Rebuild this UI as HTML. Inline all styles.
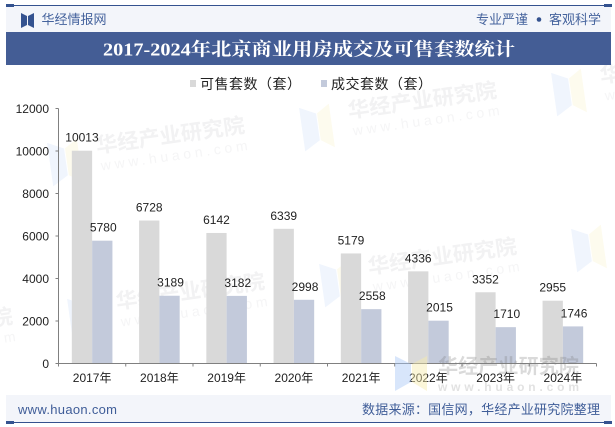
<!DOCTYPE html>
<html lang="zh">
<head>
<meta charset="utf-8">
<title>2017-2024年北京商业用房成交及可售套数统计</title>
<style>
html,body{margin:0;padding:0;background:#fff;}
body{width:615px;height:427px;overflow:hidden;}
svg{display:block;}
.sans{font-family:"Liberation Sans","Noto Sans CJK SC",sans-serif;}
.wm{font-family:"Liberation Sans","Noto Sans CJK SC",sans-serif;font-weight:700;}
</style>
</head>
<body>
<svg id="chart" xmlns="http://www.w3.org/2000/svg" width="615" height="427" viewBox="0 0 615 427">
  <rect x="0" y="0" width="615" height="427" fill="#ffffff"/>

  <g id="watermarks"></g>
  <g id="plot"></g>

  <g>
    <polygon points="395,356 411,364 411,382 395,391" fill="#a9c8f7" fill-opacity="0.45"/>
    <polygon points="412,364 427,356 427,391 412,382" fill="#f7ecaa" fill-opacity="0.45"/>
    <text class="wm" x="438" y="373" font-size="20" fill="#7a7a7a" fill-opacity="0.28" textLength="141" lengthAdjust="spacingAndGlyphs">华经产业研究院</text>
    <text class="wm" x="438" y="391" font-size="12" fill="#7a7a7a" fill-opacity="0.22" textLength="141">www.huaon.com</text>
  </g>

  <g>
    <rect x="6" y="6" width="605" height="26" fill="#f3f5fa"/>
    <rect x="6" y="5" width="605" height="1" fill="#34528f"/>
    <rect x="6" y="4" width="8" height="3" fill="#34528f"/>
    <rect x="604" y="4" width="8" height="3" fill="#34528f"/>
    <polygon points="21,13 27,16 27,25 21,28" fill="#34528f"/>
    <polygon points="34,13 28,16 28,25 34,28" fill="#34528f"/>
    <text class="sans" x="41.5" y="24" font-size="13" fill="#45639d" textLength="65">华经情报网</text>
    <text class="sans" x="476" y="24" font-size="13" fill="#45639d" textLength="52">专业严谨</text>
    <circle cx="539" cy="19.5" r="2.3" fill="#34528f"/>
    <text class="sans" x="549" y="24" font-size="13" fill="#45639d" textLength="52">客观科学</text>
  </g>

  <g>
    <rect x="6" y="32" width="605" height="33" fill="#445d95"/>
    <text x="103" y="55.5" font-size="18" font-weight="700" fill="#ffffff" font-family="'Liberation Serif','Noto Serif CJK SC',serif" textLength="412" lengthAdjust="spacingAndGlyphs">2017-2024年北京商业用房成交及可售套数统计</text>
  </g>

  <g>
    <rect x="190" y="80" width="6" height="7" fill="#d9d9d9"/>
    <text class="sans" x="200" y="89" font-size="14" fill="#222" textLength="101">可售套数（套）</text>
    <rect x="321" y="80" width="6" height="7" fill="#c3cadb"/>
    <text class="sans" x="331" y="89" font-size="14" fill="#222" textLength="101">成交套数（套）</text>
  </g>

  <g>
    <rect x="6" y="395" width="605" height="27" fill="#f3f5fa"/>
    <rect x="6" y="422" width="605" height="1" fill="#34528f"/>
    <rect x="6" y="421" width="8" height="3" fill="#34528f"/>
    <rect x="604" y="421" width="8" height="3" fill="#34528f"/>
    <text class="sans" x="18" y="414" font-size="13" fill="#3f5d98" textLength="99">www.huaon.com</text>
    <text class="sans" x="362" y="414" font-size="13" fill="#3f5d98" textLength="238">数据来源：国信网，华经产业研究院整理</text>
  </g>
</svg>
<script>
const categories = ['2017年','2018年','2019年','2020年','2021年','2022年','2023年','2024年'];
const availableUnits = [10013,6728,6142,6339,5179,4336,3352,2955];
const soldUnits = [5780,3189,3182,2998,2558,2015,1710,1746];
const yTickLabels = [0,2000,4000,6000,8000,10000,12000];
const yMaximum = 12000;

const NS = 'http://www.w3.org/2000/svg';
const plotLeft = 58.5, plotRight = 596.5, plotBottom = 363.5, plotTop = 108.5;
const barWidth = 20.3;
const plot = document.getElementById('plot');
const marks = document.getElementById('watermarks');

function yScale(v){ return plotBottom - (v / yMaximum) * (plotBottom - plotTop); }
function bandWidth(){ return (plotRight - plotLeft) / categories.length; }
function xCenter(i){ return plotLeft + bandWidth() * (i + 0.5); }

function make(tag, attrs, parent, text){
  const el = document.createElementNS(NS, tag);
  for (const k in attrs) el.setAttribute(k, attrs[k]);
  if (text !== undefined) el.textContent = text;
  parent.appendChild(el);
  return el;
}
const sans = '"Liberation Sans","Noto Sans CJK SC",sans-serif';

// faint repeating background watermarks
[[97,153],[349,118],[601,83],[117,309],[369,274],[621,239],[-135,344]].forEach(function(p){
  const g = make('g', {transform:'translate(' + p[0] + ',' + p[1] + ') rotate(-8)'}, marks);
  
  
  const a = make('polygon', {points:'-48,-17 -32,-9 -32,18 -48,27', fill:'#f0f5fd'}, g);
  
  
  const b = make('polygon', {points:'-31,-9 -18,-17 -18,27 -31,18', fill:'#fdfbee'}, g);
  
  
  const t = make('text', {x:'0', y:'0', 'font-size':'21', 'font-weight':'700', 'font-family':sans, fill:'#f2f2f3', textLength:'150', lengthAdjust:'spacingAndGlyphs'}, g, '华经产业研究院');
  
  
  const u = make('text', {x:'2', y:'18', 'font-size':'14', 'font-family':sans, fill:'#f5f5f6', textLength:'148'}, g, 'www.huaon.com');
  
  
});

// bars
categories.forEach(function(cat, i){
  const c = xCenter(i);
  const h1 = plotBottom - yScale(availableUnits[i]);
  const bar1 = make('rect', {x:c - barWidth, y:yScale(availableUnits[i]), width:barWidth, height:h1, fill:'#d9d9d9'}, plot);
  
  
  const h2 = plotBottom - yScale(soldUnits[i]);
  const bar2 = make('rect', {x:c, y:yScale(soldUnits[i]), width:barWidth, height:h2, fill:'#c3cadb'}, plot);
  
  
  const l1 = make('text', {x:c - barWidth / 2, y:yScale(availableUnits[i]) - 9, 'text-anchor':'middle', 'font-size':'12', 'font-family':sans, fill:'#222'}, plot, availableUnits[i]);
  
  
  const l2 = make('text', {x:c + barWidth / 2 + 1, y:yScale(soldUnits[i]) - 9, 'text-anchor':'middle', 'font-size':'12', 'font-family':sans, fill:'#222'}, plot, soldUnits[i]);
  
  
  const xl = make('text', {x:c, y:382, 'text-anchor':'middle', 'font-size':'12', 'font-family':sans, fill:'#222'}, plot, cat);
  
  
});

// axes
const yAxis = make('line', {x1:plotLeft, x2:plotLeft, y1:plotTop, y2:plotBottom, stroke:'#808080', 'stroke-width':'1'}, plot);


const xAxis = make('line', {x1:plotLeft, x2:plotRight, y1:plotBottom, y2:plotBottom, stroke:'#808080', 'stroke-width':'1'}, plot);



yTickLabels.forEach(function(v){
  const y = yScale(v);
  const tick = make('line', {x1:plotLeft - 3, x2:plotLeft, y1:y, y2:y, stroke:'#808080', 'stroke-width':'1'}, plot);
  
  
  const label = make('text', {x:plotLeft - 9.5, y:y + 4.5, 'text-anchor':'end', 'font-size':'12', 'font-family':sans, fill:'#222'}, plot, v);
  
  
});

for (let i = 0; i <= categories.length; i++) {
  const x = plotLeft + bandWidth() * i;
  const tick = make('line', {x1:x, x2:x, y1:plotBottom, y2:plotBottom + 3, stroke:'#808080', 'stroke-width':'1'}, plot);
  
  
}
</script>
</body>
</html>
